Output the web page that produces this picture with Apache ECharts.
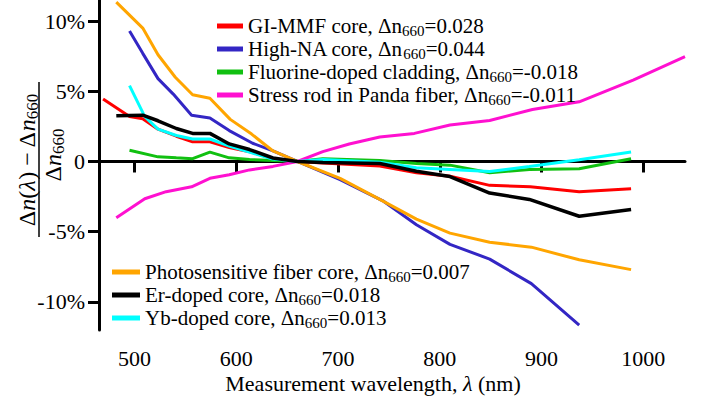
<!DOCTYPE html>
<html><head><meta charset="utf-8">
<script src="https://cdn.jsdelivr.net/npm/echarts@6/dist/echarts.min.js"></script>
<style>body{margin:0}</style></head>
<body><div id="c" style="width:702px;height:398px"></div>
<script>
// ---- data (wavelength nm, relative change %) ----
const xTicks = [500, 600, 700, 800, 900, 1000];
const yTicks = [-10, -5, 0, 5, 10];

const redName = 'GI-MMF core, Δn660=0.028';
const redX = [469, 495, 508, 523, 541, 557, 574, 593, 613, 636, 660, 685, 741, 777, 810, 849, 889, 937, 988];
const redY = [4.45, 3.2, 3.05, 2.3, 1.8, 1.4, 1.4, 1.0, 0.7, 0.2, 0, -0.1, -0.33, -0.8, -1.05, -1.7, -1.8, -2.15, -1.95];

const blueName = 'High-NA core, Δn660=0.044';
const blueX = [495, 508, 523, 538, 556, 574, 593, 616, 636, 660, 702, 744, 777, 810, 849, 890, 937];
const blueY = [9.3, 7.7, 5.9, 4.8, 3.3, 3.1, 2.2, 1.3, 0.75, 0, -1.3, -2.8, -4.5, -5.9, -6.95, -8.7, -11.65];

const greenName = 'Fluorine-doped cladding, Δn660=-0.018';
const greenX = [495, 523, 541, 557, 574, 593, 613, 636, 660, 685, 741, 777, 810, 849, 888, 937, 988];
const greenY = [0.8, 0.33, 0.26, 0.2, 0.67, 0.26, 0.14, 0.07, 0, 0.19, 0.07, -0.14, -0.26, -0.8, -0.57, -0.52, 0.19];

const magentaName = 'Stress rod in Panda fiber, Δn660=-0.011';
const magentaX = [482, 510, 531, 556, 574, 593, 613, 636, 660, 685, 711, 741, 775, 810, 849, 891, 937, 990, 1041];
const magentaY = [-4.0, -2.65, -2.15, -1.8, -1.2, -0.95, -0.6, -0.35, 0, 0.7, 1.25, 1.75, 2.0, 2.6, 2.92, 3.7, 4.25, 5.8, 7.47];

const orangeName = 'Photosensitive fiber core, Δn660=0.007';
const orangeX = [482, 508, 523, 540, 557, 574, 594, 615, 636, 660, 702, 741, 777, 810, 849, 890, 937, 988];
const orangeY = [11.35, 9.5, 7.6, 6.0, 4.75, 4.5, 3.0, 1.95, 0.75, 0, -1.2, -2.7, -4.1, -5.1, -5.75, -6.1, -7.0, -7.7];

const blackName = 'Er-doped core, Δn660=0.018';
const blackX = [482, 508, 523, 541, 557, 574, 593, 613, 636, 660, 685, 741, 777, 810, 849, 888, 937, 988];
const blackY = [3.25, 3.3, 2.9, 2.35, 2.0, 2.0, 1.25, 0.85, 0.25, 0, -0.07, -0.14, -0.7, -1.07, -2.25, -2.7, -3.9, -3.42];

const cyanName = 'Yb-doped core, Δn660=0.013';
const cyanX = [495, 510, 523, 541, 557, 574, 593, 616, 634, 660, 685, 741, 777, 810, 849, 888, 937, 988];
const cyanY = [5.4, 3.2, 2.3, 1.85, 1.6, 1.6, 1.1, 0.6, 0.2, 0, 0.15, -0.05, -0.45, -0.57, -0.72, -0.35, 0.12, 0.68];

// ---- chart ----
const F = 'Liberation Serif';
const zip = (xs, ys) => xs.map((x, i) => [x, ys[i]]);

function mkSeries(name, xs, ys, color, width, z) {
  return {
    name: name, type: 'line', data: zip(xs, ys),
    showSymbol: false, symbol: 'none', clip: true, z: z,
    lineStyle: { color: color, width: width },
    itemStyle: { color: color },
    emphasis: { disabled: true }
  };
}

const legendText = {
  fontFamily: F, fontSize: 21, color: '#000', lineHeight: 22,
  rich: {
    r: { fontFamily: F, fontSize: 21, color: '#000' },
    s: { fontFamily: F, fontSize: 15, padding: [9, 0, 0, 0], color: '#000' }
  }
};
const legendFmt = n => {
  const p = n.split('Δn660');
  return '{r|' + p[0] + 'Δn}{s|660}{r|' + p[1] + '}';
};

const c = echarts.init(document.getElementById('c'), null, { renderer: 'svg' });
c.setOption({
  animation: false,
  textStyle: { fontFamily: F },
  grid: { left: 99, right: 17, top: 0, bottom: 68 },
  xAxis: {
    type: 'value', min: 465, max: 1041,
    axisLine: { show: true, lineStyle: { color: '#000', width: 3 } },
    axisTick: { show: true, length: 11, lineStyle: { color: '#000', width: 3 }, customValues: xTicks },
    axisLabel: { fontFamily: F, fontSize: 22, color: '#000', margin: 17, customValues: xTicks,
      formatter: v => String(v) },
    splitLine: { show: false }
  },
  yAxis: {
    type: 'value', min: -12, max: 11.5,
    axisLine: { show: true, lineStyle: { color: '#000', width: 3 } },
    axisTick: { show: true, length: 11, lineStyle: { color: '#000', width: 3 }, customValues: yTicks },
    axisLabel: {
      fontFamily: F, fontSize: 22, color: '#000', margin: 14, customValues: yTicks,
      formatter: v => (v === 0 ? '0' : String(v) + '%')
    },
    splitLine: { show: false }
  },
  legend: [
    {
      data: [redName, blueName, greenName, magentaName],
      orient: 'vertical', left: 212, top: 10, itemGap: 0,
      itemWidth: 26, itemHeight: 5, icon: 'rect',
      textStyle: legendText, formatter: legendFmt, selectedMode: false
    },
    {
      data: [orangeName, blackName, cyanName],
      orient: 'vertical', left: 107, top: 256, itemGap: 0,
      itemWidth: 28, itemHeight: 5, icon: 'rect',
      textStyle: legendText, formatter: legendFmt, selectedMode: false
    }
  ],
  series: [
    mkSeries(redName, redX, redY, '#ff0000', 3, 2),
    mkSeries(greenName, greenX, greenY, '#11c011', 3, 2),
    mkSeries(magentaName, magentaX, magentaY, '#ff10d0', 3, 2),
    mkSeries(blueName, blueX, blueY, '#3326c4', 3, 2),
    mkSeries(orangeName, orangeX, orangeY, '#ffa500', 3, 2),
    mkSeries(cyanName, cyanX, cyanY, '#00ffff', 3, 2),
    mkSeries(blackName, blackX, blackY, '#000000', 3.5, 3)
  ],
  graphic: [
    {
      type: 'text', x: 27, y: 160, rotation: Math.PI / 2,
      style: {
        text: '{r|Δ}{i|n}{r|(}{i|λ}{r|) − Δ}{i|n}{s|660}',
        fontFamily: F, fontSize: 24, fill: '#000', align: 'center', verticalAlign: 'middle',
        rich: {
          r: { fontFamily: F, fontSize: 24, fill: '#000' },
          i: { fontFamily: F, fontSize: 24, fontStyle: 'italic', fill: '#000' },
          s: { fontFamily: F, fontSize: 17, fill: '#000', padding: [10, 0, 0, 0] }
        }
      }
    },
    {
      type: 'line', shape: { x1: 39, y1: 82, x2: 39, y2: 237 },
      style: { stroke: '#000', lineWidth: 1.5 }
    },
    {
      type: 'text', x: 53, y: 155, rotation: Math.PI / 2,
      style: {
        text: '{r|Δ}{i|n}{s|660}',
        fontFamily: F, fontSize: 24, fill: '#000', align: 'center', verticalAlign: 'middle',
        rich: {
          r: { fontFamily: F, fontSize: 24, fill: '#000' },
          i: { fontFamily: F, fontSize: 24, fontStyle: 'italic', fill: '#000' },
          s: { fontFamily: F, fontSize: 17, fill: '#000', padding: [10, 0, 0, 0] }
        }
      }
    },
    {
      type: 'text', x: 373, y: 383,
      style: {
        text: '{r|Measurement wavelength, }{i|λ}{r| (nm)}',
        fontFamily: F, fontSize: 22, fill: '#000', align: 'center', verticalAlign: 'middle',
        rich: {
          r: { fontFamily: F, fontSize: 22, fill: '#000' },
          i: { fontFamily: F, fontSize: 22, fontStyle: 'italic', fill: '#000' }
        }
      }
    }
  ]
});
</script>
</body></html>
